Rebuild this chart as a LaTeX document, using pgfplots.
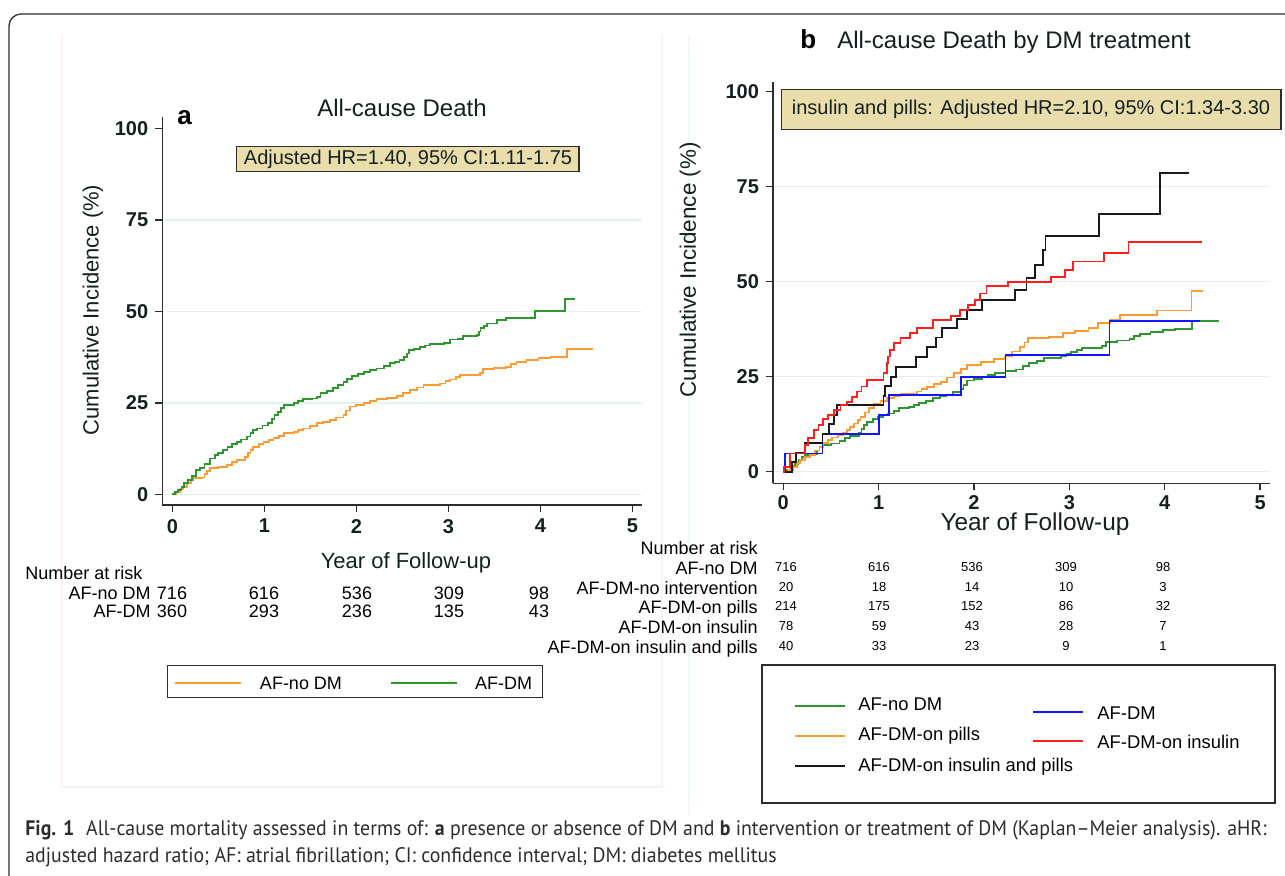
\documentclass[border=0pt]{standalone}
\usepackage{pgfplots}
\pgfplotsset{compat=1.18}
\usepackage{fontspec}
\setmainfont{Liberation Sans}
\newfontfamily\capfont{PT Sans}
\definecolor{cgreen}{RGB}{46,150,46}
\definecolor{corange}{RGB}{255,153,51}
\definecolor{cblue}{RGB}{20,20,255}
\definecolor{cred}{RGB}{255,30,30}
\definecolor{cblack}{RGB}{25,25,25}
\definecolor{axcol}{RGB}{45,45,45}
\definecolor{txtcol}{RGB}{20,32,32}
\definecolor{boxfill}{RGB}{233,221,172}
\definecolor{gridcol}{RGB}{230,239,241}
\definecolor{capcol}{RGB}{45,45,45}
\pgfplotsset{kmstyle/.style={
  scale only axis,
  axis lines=left,
  axis line style={draw=axcol, line width=0.75pt, -},
  tick align=outside,
  major tick length=3.5pt,
  tick style={draw=axcol, line width=0.75pt},
  xtick={0,1,2,3,4,5},
  ytick={0,25,50,75,100},
  ticklabel style={font=\fontsize{10}{12}\selectfont\bfseries, text=txtcol},
  /pgf/number format/assume math mode=true,
}}
\begin{document}
\begin{tikzpicture}[x=0.5pt,y=-0.5pt]
\useasboundingbox (0,0) rectangle (1285,875);
% outer frame
\draw[axcol, line width=0.65pt, rounded corners=6pt] (9,900) -- (9,14) -- (1300,14);
% faint panel frames
\draw[red!6, line width=0.6pt] (62,36) -- (62,787) -- (662,787) -- (662,36);
\draw[cyan!7, line width=0.6pt] (689,36) -- (689,815);

\begin{scope}[x=1cm,y=1cm]
% ---------------- panel a ----------------
\begin{axis}[kmstyle, at={(81.15pt,-252.5pt)}, anchor=south west,
  width=239.7pt, height=194.15pt,
  xmin=-0.109, xmax=5.102, ymin=-2.92, ymax=103.2]
\foreach \g in {0,25,50,75}{\edef\tmp{\noexpand\draw[gridcol, line width=0.75pt] (axis cs:-0.1,\g) -- (axis cs:5.102,\g);}\tmp}
\addplot[const plot, corange, line width=0.9pt] coordinates {
(0,0) (0.04,0.6) (0.08,1.4) (0.12,2.1) (0.16,3.0) (0.20,3.8) (0.23,4.4) (0.32,4.6)
(0.35,5.6) (0.38,6.4) (0.41,7.1) (0.50,7.4) (0.59,8.0) (0.65,8.8) (0.70,9.4) (0.79,10.3)
(0.82,11.3) (0.85,12.2) (0.88,13.0) (0.94,13.8) (0.99,14.4) (1.05,14.9) (1.10,15.3) (1.16,16.0)
(1.21,16.7) (1.32,17.1) (1.37,17.6) (1.42,18.0) (1.50,18.6) (1.57,19.4) (1.64,19.8) (1.71,20.3)
(1.78,21.0) (1.86,21.7) (1.89,22.9) (1.93,24.0) (2.00,24.4) (2.08,24.9) (2.15,25.5) (2.22,26.0)
(2.33,26.4) (2.44,26.9) (2.51,27.8) (2.58,28.5) (2.66,29.2) (2.73,29.9) (2.91,30.3) (2.97,30.9)
(3.02,31.4) (3.08,32.0) (3.13,32.6) (3.34,33.1) (3.38,34.2) (3.50,34.5) (3.63,34.9) (3.68,35.6)
(3.74,36.2) (3.85,36.7) (3.98,37.2) (4.11,37.6) (4.29,39.7) (4.57,39.7)};
\addplot[const plot, cgreen, line width=0.9pt] coordinates {
(0,0) (0.03,0.6) (0.06,1.2) (0.10,2.0) (0.13,3.0) (0.17,4.0) (0.21,5.0) (0.26,6.6)
(0.30,7.3) (0.35,8.3) (0.41,9.8) (0.46,10.7) (0.50,11.4) (0.55,12.1) (0.60,13.0) (0.65,13.8)
(0.70,14.4) (0.75,15.0) (0.81,15.8) (0.85,16.7) (0.88,17.5) (0.92,18.0) (0.98,18.8) (1.04,19.4)
(1.08,20.5) (1.11,21.6) (1.15,22.6) (1.18,23.5) (1.21,24.4) (1.32,24.9) (1.37,25.5) (1.42,26.0)
(1.52,26.2) (1.57,26.7) (1.61,27.6) (1.68,28.2) (1.75,29.0) (1.80,29.8) (1.86,30.8) (1.90,31.6)
(1.95,32.3) (2.02,32.8) (2.08,33.5) (2.15,33.9) (2.22,34.4) (2.30,35.1) (2.37,35.8) (2.42,36.2)
(2.47,36.7) (2.52,37.6) (2.55,38.5) (2.57,39.4) (2.63,39.8) (2.69,40.3) (2.75,40.7) (2.80,41.1)
(2.95,41.4) (3.02,42.3) (3.10,42.5) (3.16,43.3) (3.31,43.5) (3.33,44.5) (3.35,45.4) (3.39,46.0)
(3.42,46.7) (3.53,47.6) (3.63,48.1) (3.94,50.1) (4.27,53.4) (4.38,53.4)};
\end{axis}
% ---------------- panel b ----------------
\begin{axis}[kmstyle, at={(386.5pt,-241.65pt)}, anchor=south west,
  width=248.5pt, height=200.8pt,
  xmin=-0.108, xmax=5.104, ymin=-3.05, ymax=102.6,
  xticklabel style={yshift=1pt}]
\foreach \g in {0,25,50,75}{\edef\tmp{\noexpand\draw[gridcol, line width=0.75pt] (axis cs:-0.1,\g) -- (axis cs:5.104,\g);}\tmp}
\addplot[const plot, cgreen, line width=0.9pt] coordinates {
(0,0) (0.04,0.6) (0.08,1.4) (0.12,2.1) (0.16,3.0) (0.20,3.8) (0.23,4.4) (0.32,4.6)
(0.35,5.6) (0.38,6.4) (0.41,7.1) (0.50,7.4) (0.59,8.0) (0.65,8.8) (0.70,9.4) (0.79,10.3)
(0.82,11.3) (0.85,12.2) (0.88,13.0) (0.94,13.8) (0.99,14.4) (1.05,14.9) (1.10,15.3) (1.16,16.0)
(1.21,16.7) (1.32,17.1) (1.37,17.6) (1.42,18.0) (1.50,18.6) (1.57,19.4) (1.64,19.8) (1.71,20.3)
(1.78,21.0) (1.86,21.7) (1.89,22.9) (1.93,24.0) (2.00,24.4) (2.08,24.9) (2.15,25.5) (2.22,26.0)
(2.33,26.4) (2.44,26.9) (2.51,27.8) (2.58,28.5) (2.66,29.2) (2.73,29.9) (2.91,30.3) (2.97,30.9)
(3.02,31.4) (3.08,32.0) (3.13,32.6) (3.34,33.1) (3.38,34.2) (3.50,34.5) (3.63,34.9) (3.68,35.6)
(3.74,36.2) (3.85,36.7) (3.98,37.2) (4.11,37.6) (4.29,39.7) (4.57,39.7)};
\addplot[const plot, corange, line width=0.9pt] coordinates {
(0,0) (0.05,0.5) (0.105,1.3) (0.14,2.2) (0.175,3.1) (0.23,3.8) (0.28,4.4) (0.33,5.6)
(0.38,6.6) (0.42,7.5) (0.47,8.3) (0.51,9.0) (0.57,9.6) (0.63,10.1) (0.67,11.0) (0.70,11.8)
(0.74,12.7) (0.78,13.6) (0.81,14.5) (0.86,15.6) (0.90,16.7) (0.95,17.8) (1.02,18.6) (1.09,19.3)
(1.16,19.9) (1.23,20.4) (1.40,21.1) (1.45,21.7) (1.51,22.2) (1.58,23.0) (1.65,23.7) (1.72,24.8)
(1.79,25.9) (1.86,27.0) (1.93,28.1) (2.07,28.9) (2.21,29.6) (2.32,30.3) (2.40,31.6) (2.48,32.9)
(2.53,34.0) (2.57,35.1) (2.79,35.5) (2.93,36.4) (3.06,37.0) (3.20,37.8) (3.30,39.2) (3.43,39.9)
(3.53,41.2) (3.92,42.4) (4.28,47.6) (4.40,47.6)};
\addplot[const plot, cblue, line width=0.9pt] coordinates {
(0,0) (0.02,4.8) (0.41,9.9) (1.00,14.9) (1.105,20.2) (1.86,25.0) (2.33,30.7) (3.42,39.7) (4.37,39.7)};
\addplot[const plot, cblack, line width=0.9pt] coordinates {
(0,0) (0.09,2.5) (0.13,5.0) (0.23,7.5) (0.41,10.0) (0.48,12.5) (0.53,15.0) (0.56,17.5)
(1.05,20.0) (1.07,22.5) (1.13,25.0) (1.18,27.5) (1.39,30.2) (1.51,32.8) (1.60,35.3) (1.66,37.8)
(1.82,40.1) (1.93,42.6) (2.08,45.2) (2.43,47.8) (2.55,50.9) (2.64,54.4) (2.72,58.3) (2.75,62.0)
(3.31,67.7) (3.95,78.5) (4.25,78.5)};
\addplot[const plot, cred, line width=0.9pt] coordinates {
(0,0) (0.005,1.3) (0.07,4.8) (0.23,7.0) (0.26,8.8) (0.32,11.0) (0.37,12.3) (0.42,13.8)
(0.47,14.9) (0.53,16.2) (0.60,17.5) (0.67,18.4) (0.72,19.7) (0.77,21.1) (0.82,22.4) (0.88,24.1)
(1.05,25.9) (1.09,28.5) (1.10,30.3) (1.12,32.0) (1.16,33.8) (1.23,35.1) (1.33,36.4) (1.40,37.8)
(1.57,39.9) (1.76,41.0) (1.85,42.5) (1.94,43.9) (2.01,45.2) (2.06,46.9) (2.13,48.9) (2.36,50.0)
(2.81,51.3) (2.95,53.1) (3.04,55.3) (3.36,57.5) (3.62,60.5) (4.39,60.5)};
\end{axis}
\end{scope}

% ---------- panel a texts ----------
\node[anchor=base, font=\fontsize{12}{14}\selectfont, text=txtcol] at (402,116) {All-cause Death};
\node[anchor=base west, font=\fontsize{13}{15}\selectfont\bfseries, text=black, inner sep=0pt] at (177,124) {a};
\draw[fill=boxfill, draw=axcol, line width=0.75pt] (236.7,146.7) rectangle (579,171.7);
\node[font=\fontsize{10}{12}\selectfont, text=txtcol] at (408,159.2) {Adjusted HR=1.40, 95\% CI:1.11-1.75};
\node[rotate=90, font=\fontsize{11}{13}\selectfont, text=txtcol] at (93,310) {Cumulative Incidence (\%)};
\node[font=\fontsize{11}{13}\selectfont, text=txtcol] at (406,563) {Year of Follow-up};
\begin{scope}[font=\fontsize{9}{11}\selectfont, text=black]
\node[anchor=base west, inner sep=0pt] at (25,579.5) {Number at risk};
\node[anchor=base east, inner sep=0pt] at (151,599) {AF-no DM};
\node[anchor=base east, inner sep=0pt] at (151,617.5) {AF-DM};
\foreach \x/\u/\v in {172/716/360, 264/616/293, 357/536/236, 449/309/135, 539/98/43}{
  \node[anchor=base, inner sep=0pt] at (\x,599) {\u};
  \node[anchor=base, inner sep=0pt] at (\x,617.5) {\v};
}
\end{scope}
\draw[draw=axcol, line width=0.75pt] (167.3,665.7) rectangle (542.7,697.7);
\draw[corange, line width=0.9pt] (175,683.3) -- (240.7,683.3);
\draw[cgreen, line width=0.9pt] (390.7,683.3) -- (456.7,683.3);
\node[font=\fontsize{9}{11}\selectfont] at (301,683) {AF-no DM};
\node[font=\fontsize{9}{11}\selectfont] at (503.5,683) {AF-DM};

% ---------- panel b texts ----------
\node[anchor=base west, font=\fontsize{13}{15}\selectfont\bfseries, text=black, inner sep=0pt] at (800,48) {b};
\node[anchor=base, font=\fontsize{12}{14}\selectfont, text=txtcol] at (1014,48) {All-cause Death by DM treatment};
\draw[fill=boxfill, draw=axcol, line width=0.75pt] (781.7,89.3) rectangle (1281,129.3);
\node[font=\fontsize{10}{12}\selectfont, text=txtcol] at (1031,109.3) {insulin and pills: Adjusted HR=2.10, 95\% CI:1.34-3.30};
\node[rotate=90, font=\fontsize{11.2}{13}\selectfont, text=txtcol] at (690,270) {Cumulative Incidence (\%)};
\node[anchor=base, font=\fontsize{12.2}{14}\selectfont, text=txtcol, inner sep=0pt] at (1035,530) {Year of Follow-up};
\begin{scope}[font=\fontsize{9}{11}\selectfont, text=black]
\node[anchor=base east, inner sep=0pt] at (758,554.5) {Number at risk};
\node[anchor=base east, inner sep=0pt] at (758,574) {AF-no DM};
\node[anchor=base east, inner sep=0pt] at (758,594) {AF-DM-no intervention};
\node[anchor=base east, inner sep=0pt] at (758,613.5) {AF-DM-on pills};
\node[anchor=base east, inner sep=0pt] at (758,633.5) {AF-DM-on insulin};
\node[anchor=base east, inner sep=0pt] at (758,653.5) {AF-DM-on insulin and pills};
\end{scope}
\begin{scope}[font=\fontsize{6.5}{8}\selectfont, text=black]
\foreach \x/\a/\b/\c/\d/\e in {786/716/20/214/78/40, 879/616/18/175/59/33, 972/536/14/152/43/23, 1066/309/10/86/28/9, 1163/98/3/32/7/1}{
  \node[anchor=base, inner sep=0pt] at (\x,571) {\a};
  \node[anchor=base, inner sep=0pt] at (\x,591) {\b};
  \node[anchor=base, inner sep=0pt] at (\x,610.5) {\c};
  \node[anchor=base, inner sep=0pt] at (\x,630.5) {\d};
  \node[anchor=base, inner sep=0pt] at (\x,650.5) {\e};
}
\end{scope}
\draw[draw=axcol, line width=0.75pt] (762,665) rectangle (1275,803);
\draw[cgreen, line width=0.9pt] (795,706) -- (845,706);
\draw[cblue, line width=0.9pt] (1033,712) -- (1083,712);
\draw[corange, line width=0.9pt] (795,736) -- (845,736);
\draw[cred, line width=0.9pt] (1033,741) -- (1083,741);
\draw[cblack, line width=0.9pt] (795,766) -- (845,766);
\begin{scope}[font=\fontsize{9.2}{11}\selectfont, text=black]
\node[anchor=west, inner sep=0pt] at (858,704) {AF-no DM};
\node[anchor=west, inner sep=0pt] at (1097,713) {AF-DM};
\node[anchor=west, inner sep=0pt] at (858,736) {AF-DM-on pills};
\node[anchor=west, inner sep=0pt] at (1097,742) {AF-DM-on insulin};
\node[anchor=west, inner sep=0pt] at (858,767) {AF-DM-on insulin and pills};
\end{scope}

% ---------- caption ----------
\begin{scope}[font=\capfont\fontsize{10.5}{12}\selectfont, text=capcol]
\node[anchor=base west, inner sep=0pt] at (25,835) {\scalebox{0.945}[1]{\textbf{Fig. 1}\hspace{0.6em}All-cause mortality assessed in terms of: \textbf{a} presence or absence of DM and \textbf{b} intervention or treatment of DM (Kaplan–Meier analysis). aHR:}};
\node[anchor=base west, inner sep=0pt] at (25,862) {\scalebox{0.945}[1]{adjusted hazard ratio; AF: atrial fibrillation; CI: confidence interval; DM: diabetes mellitus}};
\end{scope}
\end{tikzpicture}
\end{document}
